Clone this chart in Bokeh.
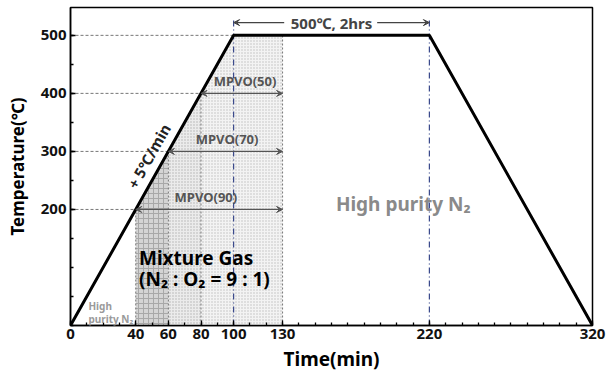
import numpy as np
from bokeh.plotting import figure
from bokeh.models import (FixedTicker, Range1d, Label, Arrow, VeeHead)
from bokeh.embed import file_html
from bokeh.resources import INLINE

# ---- data ----
profile_time = [0, 100, 220, 320]          # min
profile_temp = [0, 500, 500, 0]            # degC
x_tick_labels = [0, 40, 60, 80, 100, 130, 220, 320]
y_tick_labels = [200, 300, 400, 500]
gas_start_times = [40, 60, 80]             # start of mixture gas for MPVO(90), (70), (50)
gas_end_time = 130
mpvo_names = ["MPVO(90)", "MPVO(70)", "MPVO(50)"]
mpvo_temps = [200, 300, 400]
hold_start, hold_end = 100, 220
hold_label = "500℃, 2hrs"

FONT = "Noto Sans"

p = figure(width=608, height=374, output_backend="svg", toolbar_location=None,
           x_range=Range1d(0, 320), y_range=Range1d(0, 548),
           min_border_left=70, min_border_right=16, min_border_top=7, min_border_bottom=49)
p.background_fill_color = "white"
p.border_fill_color = "white"
p.xgrid.visible = False
p.ygrid.visible = False
p.outline_line_color = "black"
p.outline_line_width = 1.5

def ramp_temp(t):
    return float(np.interp(t, profile_time, profile_temp))

def lbl(**kw):
    base = dict(text_font=FONT, text_font_style="bold")
    base.update(kw)
    return Label(**base)

# ---- shaded regions under the profile ----
fills = [("#d4d4d4", "+", "#a8a8a8", 5), ("#ebebeb", "dot", "#b0b0b0", 3), ("#f3f3f3", "dot", "#bdbdbd", 3)]
bounds = gas_start_times + [gas_end_time]
for i in range(3):
    a, b = bounds[i], bounds[i + 1]
    ts = [a] + [t for t in profile_time if a < t < b] + [b]
    xs = [a] + ts + [b]
    ys = [0] + [ramp_temp(t) for t in ts] + [0]
    fc, hp, hc, hs = fills[i]
    p.patch(xs, ys, fill_color=fc, line_color=None, hatch_pattern=hp,
            hatch_color=hc, hatch_scale=hs, hatch_weight=1)

# ---- guide lines ----
for t in gas_start_times:
    p.line([t, t], [0, ramp_temp(t)], line_color="#777777", line_dash="2 2", line_width=1)
p.line([gas_end_time, gas_end_time], [0, ramp_temp(gas_end_time)], line_color="#777777",
       line_dash="2 2", line_width=1)
arrow_y = 522
for t in [hold_start, hold_end]:
    p.line([t, t], [0, arrow_y + 8], line_color="#3b4a8c", line_dash="6 3 1 3", line_width=1.2)
for T in y_tick_labels:
    t_at = float(np.interp(T, profile_temp[:2], profile_time[:2]))
    p.line([0, t_at], [T, T], line_color="#777777", line_dash="3 2", line_width=1)

# ---- profile ----
p.line(profile_time, profile_temp, line_color="black", line_width=3)

# ---- MPVO arrows ----
for name, t0, T, xc in zip(mpvo_names, gas_start_times, mpvo_temps, [83, 96, 107]):
    p.add_layout(Arrow(x_start=t0, y_start=T, x_end=gas_end_time, y_end=T,
                       start=VeeHead(size=6, line_color="#555555", fill_color="#555555", line_width=1),
                       end=VeeHead(size=6, line_color="#555555", fill_color="#555555", line_width=1),
                       line_color="#555555", line_width=1.3))
    p.add_layout(lbl(x=xc, y=T + 6, text=name, text_align="center", text_baseline="bottom",
                     text_font_size="13px", text_color="#555555"))

# ---- hold arrows ----
hold_center = (hold_start + hold_end) / 2
p.add_layout(lbl(x=hold_center, y=arrow_y, text=hold_label, text_align="center",
                 text_baseline="middle", text_font_size="15px", text_color="#444444"))
p.add_layout(Arrow(x_start=hold_center - 29, y_start=arrow_y, x_end=hold_start, y_end=arrow_y,
                   end=VeeHead(size=6, line_color="#444444", fill_color="#444444", line_width=1),
                   line_color="#444444", line_width=1.2))
p.add_layout(Arrow(x_start=hold_center + 28, y_start=arrow_y, x_end=hold_end, y_end=arrow_y,
                   end=VeeHead(size=6, line_color="#444444", fill_color="#444444", line_width=1),
                   line_color="#444444", line_width=1.2))

# ---- texts ----
p.add_layout(lbl(x=48, y=292, text="+ 5℃/min", angle=1.06, text_align="center",
                 text_baseline="middle", text_font_size="15px", text_color="#222222"))
p.add_layout(lbl(x=42, y=117, text="Mixture Gas", text_align="left", text_baseline="middle",
                 text_font_size="19px", text_color="black"))
p.add_layout(lbl(x=42, y=80, text="(N₂ : O₂ = 9 : 1)", text_align="left", text_baseline="middle",
                 text_font_size="19px", text_color="black"))
p.add_layout(lbl(x=204, y=210, text="High purity N₂", text_align="center", text_baseline="middle",
                 text_font_size="19px", text_color="#8a8a8a"))
p.add_layout(lbl(x=11, y=34, text="High", text_align="left", text_baseline="middle",
                 text_font_size="10px", text_color="#9a9a9a"))
p.add_layout(lbl(x=11, y=12, text="purity N₂", text_align="left", text_baseline="middle",
                 text_font_size="10px", text_color="#9a9a9a"))

# ---- axes ----
p.xaxis.ticker = FixedTicker(ticks=x_tick_labels, minor_ticks=list(range(0, 321, 10)))
p.yaxis.ticker = FixedTicker(ticks=y_tick_labels, minor_ticks=list(range(0, 549, 50)))
for ax in (p.xaxis[0], p.yaxis[0]):
    ax.major_tick_in = 5
    ax.major_tick_out = 0
    ax.minor_tick_in = 3
    ax.minor_tick_out = 0
    ax.axis_line_width = 1.5
    ax.axis_line_color = "black"
    ax.major_tick_line_color = "black"
    ax.minor_tick_line_color = "black"
    ax.major_tick_line_width = 1.3
    ax.minor_tick_line_width = 1.3
    ax.major_label_text_font = FONT
    ax.major_label_text_font_style = "bold"
    ax.major_label_text_font_size = "15px"
    ax.major_label_text_color = "#111111"
    ax.axis_label_text_font = FONT
    ax.axis_label_text_font_style = "bold"
    ax.axis_label_text_color = "black"
p.xaxis.axis_label_text_font_size = "19px"
p.yaxis.axis_label_text_font_size = "17px"
p.xaxis.axis_label = "Time(min)"
p.yaxis.axis_label = "Temperature(℃)"
p.xaxis.major_label_standoff = 3
p.yaxis.major_label_standoff = 4
p.xaxis.axis_label_standoff = 4
p.yaxis.axis_label_standoff = 9

open("out.html", "w").write(file_html(p, INLINE))
